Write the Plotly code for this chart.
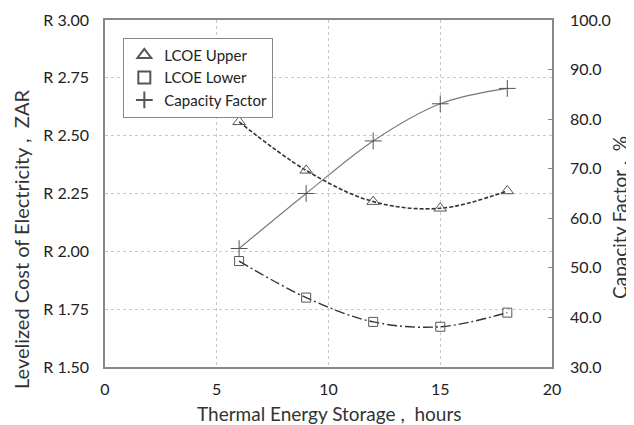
import plotly.graph_objects as go

hours = [6, 9, 12, 15, 18]
lcoe_upper = [2.56, 2.35, 2.215, 2.186, 2.261]
lcoe_lower = [1.958, 1.80, 1.695, 1.674, 1.735]
capacity_factor = [53.9, 65.0, 75.6, 83.1, 86.2]

left_ticks = [1.50, 1.75, 2.00, 2.25, 2.50, 2.75, 3.00]
right_ticks = [30, 40, 50, 60, 70, 80, 90, 100]
x_ticks = [0, 5, 10, 15, 20]

FONT = "Lato"
mk_col = "#555555"
ln_col = "#333333"

W, H = 634, 425
OFF = 8  # page body margin offset
# target plot area on screen
SL, SR, ST, SB = 105, 552, 20, 367
PW, PH = SR - SL, SB - ST


def px(xs):
    return (xs - SL) / PW


def py(ys):
    return (SB - ys) / PH


fig = go.Figure()

# curves
fig.add_trace(go.Scatter(x=hours, y=lcoe_upper, mode="lines", line=dict(color=ln_col, width=1.6, dash="4px,2px", shape="spline", smoothing=1.0), showlegend=False, hoverinfo="skip"))
fig.add_trace(go.Scatter(x=hours, y=lcoe_lower, mode="lines", line=dict(color=ln_col, width=1.4, dash="10px,3px,2px,3px", shape="spline", smoothing=1.0), showlegend=False, hoverinfo="skip"))
fig.add_trace(go.Scatter(x=hours, y=capacity_factor, mode="lines", yaxis="y2", line=dict(color="#777777", width=1.1, shape="spline", smoothing=1.0), showlegend=False, hoverinfo="skip"))

# markers
fig.add_trace(go.Scatter(x=hours, y=lcoe_upper, mode="markers", name="LCOE Upper",
                         marker=dict(symbol="triangle-up-open", size=11, color=mk_col, line=dict(width=1))))
fig.add_trace(go.Scatter(x=hours, y=lcoe_lower, mode="markers", name="LCOE Lower",
                         marker=dict(symbol="square-open", size=9, color=mk_col, line=dict(width=1))))
fig.add_trace(go.Scatter(x=hours, y=capacity_factor, mode="markers", name="Capacity Factor", yaxis="y2",
                         marker=dict(symbol="cross-thin-open", size=12, color=mk_col, line=dict(width=1, color=mk_col))))

grid = dict(showgrid=True, gridcolor="#c8c8c8", griddash="dot", gridwidth=1)
tick_font = dict(family=FONT, size=16, color="#222222")
title_font = dict(family=FONT, size=19, color="#333333")

fig.update_layout(
    width=W, height=H,
    margin=dict(l=SL - OFF, r=W - (SR - OFF), t=ST - OFF, b=H - (SB - OFF), pad=0),
    paper_bgcolor="white", plot_bgcolor="white",
    font=dict(family=FONT, size=16, color="#222222"),
    xaxis=dict(range=[0, 20], tickvals=x_ticks, ticks="", showline=True, linecolor="#888888", linewidth=1.5, mirror=True,
               zeroline=False, tickfont=tick_font, ticklabelstandoff=7, automargin=False, **grid),
    yaxis=dict(range=[1.5, 3.0], tickvals=left_ticks, ticktext=["R %.2f" % v for v in left_ticks], ticks="",
               showline=True, linecolor="#888888", linewidth=1.5, mirror=True, zeroline=False,
               tickfont=tick_font, ticklabelstandoff=11, automargin=False, **grid),
    yaxis2=dict(range=[30, 100], tickvals=right_ticks, ticktext=["%.1f" % v for v in right_ticks], overlaying="y",
                side="right", showgrid=False, ticks="inside", ticklen=4, tickcolor="#888888", zeroline=False,
                showline=False, tickfont=tick_font, ticklabelstandoff=17, automargin=False),
    legend=dict(x=0.041, y=0.949, xanchor="left", yanchor="top", bgcolor="white", bordercolor="#888888", borderwidth=1,
                font=dict(family=FONT, size=15, color="#222222"), tracegroupgap=0, itemsizing="constant",
                itemwidth=30),
    showlegend=True,
    annotations=[
        dict(text="Thermal Energy Storage ,  hours", xref="paper", yref="paper", x=0.5, y=py(413),
             xanchor="center", yanchor="middle", showarrow=False, font=title_font),
        dict(text="Levelized Cost of Electricity ,  ZAR", xref="paper", yref="paper", x=px(21), y=py(240),
             xanchor="center", yanchor="middle", textangle=-90, showarrow=False, font=dict(family=FONT, size=20, color="#333333")),
        dict(text="Capacity Factor ,  %", xref="paper", yref="paper", x=px(619), y=py(218),
             xanchor="center", yanchor="middle", textangle=-90, showarrow=False, font=title_font),
    ],
)

fig.write_html("out.html")
